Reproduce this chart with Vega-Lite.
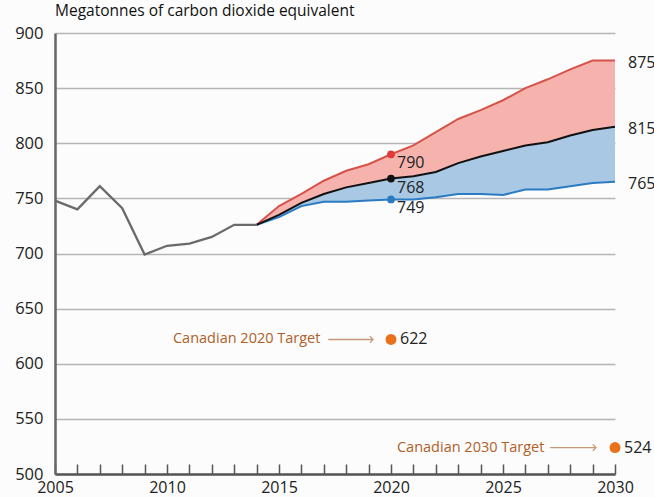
{
  "$schema": "https://vega.github.io/schema/vega-lite/v6.json",
  "width": 560,
  "height": 441,
  "autosize": {"type": "none"},
  "padding": {"left": 55, "top": 33, "right": 39, "bottom": 23},
  "background": "#fbfcfb",
  "title": {"text": "Megatonnes of carbon dioxide equivalent", "anchor": "start", "frame": "group", "fontSize": 15.5, "font": "Open Sans", "fontWeight": "normal", "color": "#111", "offset": 6},
  "config": {
    "view": {"stroke": null},
    "font": "Open Sans",
    "axis": {"labelFont": "Open Sans", "labelColor": "#222"}
  },
  "resolve": {"axis": {"x": "independent"}},
  "datasets": {
    "hist": [
      {"year": 2005, "value": 748}, {"year": 2006, "value": 740}, {"year": 2007, "value": 761},
      {"year": 2008, "value": 741}, {"year": 2009, "value": 699}, {"year": 2010, "value": 707},
      {"year": 2011, "value": 709}, {"year": 2012, "value": 715}, {"year": 2013, "value": 726},
      {"year": 2014, "value": 726}
    ],
    "proj": [
      {"year": 2014, "low": 726, "mid": 726, "high": 726},
      {"year": 2015, "low": 733, "mid": 735, "high": 743},
      {"year": 2016, "low": 743, "mid": 746, "high": 754},
      {"year": 2017, "low": 747, "mid": 754, "high": 766},
      {"year": 2018, "low": 747, "mid": 760, "high": 775},
      {"year": 2019, "low": 748, "mid": 764, "high": 781},
      {"year": 2020, "low": 749, "mid": 768, "high": 790},
      {"year": 2021, "low": 749, "mid": 770, "high": 798},
      {"year": 2022, "low": 751, "mid": 774, "high": 810},
      {"year": 2023, "low": 754, "mid": 782, "high": 822},
      {"year": 2024, "low": 754, "mid": 788, "high": 830},
      {"year": 2025, "low": 753, "mid": 793, "high": 839},
      {"year": 2026, "low": 758, "mid": 798, "high": 850},
      {"year": 2027, "low": 758, "mid": 801, "high": 858},
      {"year": 2028, "low": 761, "mid": 807, "high": 867},
      {"year": 2029, "low": 764, "mid": 812, "high": 875},
      {"year": 2030, "low": 765, "mid": 815, "high": 875}
    ],
    "pts2020": [
      {"year": 2020, "value": 790, "series": "high"},
      {"year": 2020, "value": 768, "series": "mid"},
      {"year": 2020, "value": 749, "series": "low"}
    ],
    "endlabels": [
      {"year": 2030, "value": 875, "label": "875"},
      {"year": 2030, "value": 815, "label": "815"},
      {"year": 2030, "value": 765, "label": "765"}
    ],
    "targets": [
      {"year": 2020, "value": 622, "label": "622", "text": "Canadian 2020 Target", "textyear": 2016.85, "a1": 2017.2, "a2": 2019.2},
      {"year": 2030, "value": 524, "label": "524", "text": "Canadian 2030 Target", "textyear": 2026.85, "a1": 2027.1, "a2": 2029.15}
    ]
  },
  "layer": [
    {
      "data": {"name": "proj"},
      "mark": {"type": "area", "color": "#f6b3ad", "opacity": 1},
      "encoding": {
        "x": {"field": "year", "type": "quantitative", "scale": {"domain": [2005, 2030], "nice": false, "zero": false},
          "axis": {"title": null, "orient": "bottom", "values": [2005, 2010, 2015, 2020, 2025, 2030],
            "format": "d", "grid": false, "domainColor": "#555", "domainWidth": 2.5,
            "tickColor": "#555", "tickWidth": 1.5, "tickSize": -10, "labelFontSize": 16, "labelPadding": 15, "labelFlush": false, "labelOverlap": false}},
        "y": {"field": "mid", "type": "quantitative", "scale": {"domain": [500, 900], "nice": false, "zero": false},
          "axis": {"title": null, "values": [500,550,600,650,700,750,800,850,900], "grid": true, "gridColor": "#b5b5b5", "gridWidth": 1.5,
            "domainColor": "#666", "domainWidth": 2.5, "ticks": false, "labelFontSize": 16.5, "labelPadding": 12}},
        "y2": {"field": "high"}
      }
    },
    {
      "data": {"name": "proj"},
      "mark": {"type": "area", "color": "#a9c8e4", "opacity": 1},
      "encoding": {
        "x": {"field": "year", "type": "quantitative",
          "axis": {"title": null, "orient": "bottom", "values": [2006,2007,2008,2009,2011,2012,2013,2014,2016,2017,2018,2019,2021,2022,2023,2024,2026,2027,2028,2029],
            "labels": false, "domain": false, "grid": false, "tickColor": "#555", "tickWidth": 1.5, "tickSize": -10}},
        "y": {"field": "low", "type": "quantitative"},
        "y2": {"field": "mid"}
      }
    },
    {
      "data": {"name": "proj"},
      "mark": {"type": "line", "color": "#d6534a", "strokeWidth": 2},
      "encoding": {"x": {"field": "year", "type": "quantitative", "axis": null}, "y": {"field": "high", "type": "quantitative"}}
    },
    {
      "data": {"name": "proj"},
      "mark": {"type": "line", "color": "#2b7bc3", "strokeWidth": 2},
      "encoding": {"x": {"field": "year", "type": "quantitative", "axis": null}, "y": {"field": "low", "type": "quantitative"}}
    },
    {
      "data": {"name": "proj"},
      "mark": {"type": "line", "color": "#111", "strokeWidth": 2},
      "encoding": {"x": {"field": "year", "type": "quantitative", "axis": null}, "y": {"field": "mid", "type": "quantitative"}}
    },
    {
      "data": {"name": "hist"},
      "mark": {"type": "line", "color": "#6a6a6a", "strokeWidth": 2.3},
      "encoding": {"x": {"field": "year", "type": "quantitative", "axis": null}, "y": {"field": "value", "type": "quantitative"}}
    },
    {
      "data": {"name": "pts2020"},
      "mark": {"type": "point", "filled": true, "size": 60, "opacity": 1},
      "encoding": {
        "x": {"field": "year", "type": "quantitative", "axis": null},
        "y": {"field": "value", "type": "quantitative"},
        "color": {"field": "series", "type": "nominal", "scale": {"domain": ["high", "mid", "low"], "range": ["#e03a3a", "#111111", "#2b7bc3"]}, "legend": null}
      }
    },
    {
      "data": {"name": "pts2020"},
      "mark": {"type": "text", "align": "left", "baseline": "top", "dx": 6, "dy": 1, "fontSize": 16, "color": "#222"},
      "encoding": {
        "x": {"field": "year", "type": "quantitative", "axis": null},
        "y": {"field": "value", "type": "quantitative"},
        "text": {"field": "value", "type": "quantitative"}
      }
    },
    {
      "data": {"name": "endlabels"},
      "mark": {"type": "text", "align": "left", "baseline": "middle", "dx": 13, "dy": 2, "fontSize": 16, "color": "#222"},
      "encoding": {
        "x": {"field": "year", "type": "quantitative", "axis": null},
        "y": {"field": "value", "type": "quantitative"},
        "text": {"field": "label"}
      }
    },
    {
      "data": {"name": "targets"},
      "mark": {"type": "rule", "color": "#c8987a", "strokeWidth": 1.3},
      "encoding": {
        "x": {"field": "a1", "type": "quantitative", "axis": null},
        "x2": {"field": "a2"},
        "y": {"field": "value", "type": "quantitative"}
      }
    },
    {
      "data": {"name": "targets"},
      "mark": {"type": "point", "shape": "M-1,-1L0,0L-1,1", "filled": false, "color": "#c8987a", "strokeWidth": 1.3, "size": 40, "opacity": 1},
      "encoding": {
        "x": {"field": "a2", "type": "quantitative", "axis": null},
        "y": {"field": "value", "type": "quantitative"}
      }
    },
    {
      "data": {"name": "targets"},
      "mark": {"type": "text", "align": "right", "baseline": "middle", "fontSize": 14.5, "color": "#b0602a"},
      "encoding": {
        "x": {"field": "textyear", "type": "quantitative", "axis": null},
        "y": {"field": "value", "type": "quantitative"},
        "text": {"field": "text"}
      }
    },
    {
      "data": {"name": "targets"},
      "mark": {"type": "point", "filled": true, "size": 120, "color": "#e8711c", "opacity": 1},
      "encoding": {
        "x": {"field": "year", "type": "quantitative", "axis": null},
        "y": {"field": "value", "type": "quantitative"}
      }
    },
    {
      "data": {"name": "targets"},
      "mark": {"type": "text", "align": "left", "baseline": "middle", "dx": 9, "fontSize": 16, "color": "#222"},
      "encoding": {
        "x": {"field": "year", "type": "quantitative", "axis": null},
        "y": {"field": "value", "type": "quantitative"},
        "text": {"field": "label"}
      }
    }
  ]
}
